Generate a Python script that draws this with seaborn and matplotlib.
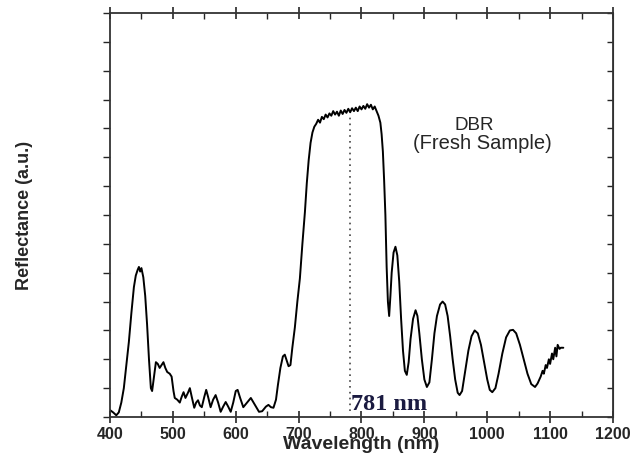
"""DBR reflectance spectrum (fresh sample)."""

import matplotlib

matplotlib.use("Agg")

import matplotlib.pyplot as plt
import pandas as pd
import seaborn as sns
from matplotlib.ticker import MultipleLocator

# values
wavelength = [
    400, 405, 410, 414, 418, 422, 426, 430, 434, 438, 441, 444, 446, 448, 450, 453, 456, 459, 462, 465,
    467, 470, 473, 476, 479, 482, 485, 488, 491, 495, 498, 501, 503, 507, 511, 514, 517, 520, 524, 527,
    530, 534, 537, 540, 543, 546, 550, 553, 556, 560, 564, 568, 572, 576, 580, 584, 588, 592, 596, 600,
    603, 607, 612, 618, 624, 630, 637, 642, 648, 652, 656, 660, 664, 667, 671, 675, 678, 681, 684, 687,
    690, 694, 698, 702, 706, 710, 713, 716, 719, 722, 725, 728, 731, 734, 737, 740, 743, 746, 749, 752,
    755, 758, 761, 764, 767, 770, 773, 776, 779, 782, 785, 788, 791, 794, 797, 800, 803, 806, 809, 812,
    815, 818, 821, 824, 827, 830, 832, 834, 836, 838, 840, 842, 844, 846, 848, 851, 854, 857, 860, 863,
    866, 869, 872, 875, 878, 882, 886, 889, 892, 896, 900, 904, 908, 912, 916, 920, 925, 929, 933, 937,
    941, 945, 949, 953, 956, 960, 965, 970, 975, 980, 985, 990, 995, 1000, 1004, 1008, 1013, 1018, 1024, 1030,
    1036, 1041, 1046, 1052, 1058, 1064, 1070, 1076, 1080, 1085, 1088, 1090, 1093, 1095, 1098, 1100, 1103, 1105, 1108, 1110,
    1112, 1115, 1117, 1121,
]
reflectance = [
    0.12, 0.08, 0.03, 0.08, 0.25, 0.50, 0.90, 1.30, 1.80, 2.25, 2.45, 2.55, 2.60, 2.52, 2.58, 2.42, 2.10, 1.60, 1.00, 0.50,
    0.45, 0.70, 0.95, 0.92, 0.85, 0.90, 0.95, 0.85, 0.78, 0.75, 0.70, 0.45, 0.33, 0.30, 0.25, 0.35, 0.43, 0.33, 0.42, 0.50,
    0.35, 0.16, 0.25, 0.29, 0.20, 0.17, 0.35, 0.47, 0.35, 0.17, 0.30, 0.38, 0.25, 0.09, 0.18, 0.26, 0.18, 0.09, 0.25, 0.45,
    0.47, 0.33, 0.17, 0.25, 0.33, 0.22, 0.09, 0.10, 0.18, 0.21, 0.17, 0.16, 0.30, 0.55, 0.85, 1.05, 1.08, 0.98, 0.88, 0.90,
    1.20, 1.55, 2.00, 2.40, 3.00, 3.55, 4.05, 4.45, 4.75, 4.93, 5.03, 5.08, 5.15, 5.10, 5.20, 5.16, 5.24, 5.19, 5.26, 5.22,
    5.30, 5.24, 5.29, 5.22, 5.31, 5.25, 5.32, 5.27, 5.34, 5.28, 5.35, 5.30, 5.36, 5.30, 5.38, 5.33, 5.39, 5.34, 5.42, 5.36,
    5.41, 5.33, 5.38, 5.30, 5.22, 5.10, 4.90, 4.60, 4.10, 3.50, 2.60, 2.00, 1.75, 2.10, 2.50, 2.85, 2.95, 2.80, 2.35, 1.70,
    1.15, 0.80, 0.73, 0.95, 1.35, 1.70, 1.85, 1.75, 1.45, 1.00, 0.65, 0.52, 0.60, 1.00, 1.45, 1.75, 1.95, 2.00, 1.95, 1.75,
    1.40, 1.00, 0.65, 0.42, 0.38, 0.45, 0.80, 1.15, 1.40, 1.50, 1.45, 1.25, 0.95, 0.65, 0.47, 0.43, 0.50, 0.75, 1.10, 1.38,
    1.50, 1.51, 1.45, 1.25, 1.00, 0.75, 0.57, 0.52, 0.58, 0.70, 0.80, 0.75, 0.90, 0.85, 1.00, 0.92, 1.10, 1.00, 1.20, 1.05,
    1.25, 1.18, 1.20, 1.20,
]
peak_nm = 781
x_ticks = [400, 500, 600, 700, 800, 900, 1000, 1100, 1200]

df = pd.DataFrame({"wavelength": wavelength, "reflectance": reflectance})

sns.set_style("ticks")
plt.rcParams["font.family"] = ["Liberation Sans", "DejaVu Sans"]

fig = plt.figure(figsize=(6.3, 4.59), dpi=100)
ax = fig.add_axes([0.1746, 0.0915, 0.7984, 0.8802])

sns.lineplot(data=df, x="wavelength", y="reflectance", color="black", linewidth=1.4, ax=ax)
ax.vlines(peak_nm, 0.1, 5.25, colors="#444444", linestyles=(0, (1, 2.5)), linewidth=1.2)

ax.set_xlim(400, 1200)
ax.set_ylim(0, 7)
ax.set_xticks(x_ticks)
ax.xaxis.set_minor_locator(MultipleLocator(50))
ax.yaxis.set_major_locator(MultipleLocator(1))
ax.yaxis.set_minor_locator(MultipleLocator(0.5))
ax.set_yticklabels([])

for side in ["left", "right", "top", "bottom"]:
    ax.spines[side].set_visible(True)
    ax.spines[side].set_color("#333333")
    ax.spines[side].set_linewidth(1.3)

ax.tick_params(axis="x", which="major", direction="inout", length=8, width=1.2, top=True,
               labelsize=11.5, pad=3)
ax.tick_params(axis="x", which="minor", direction="in", length=4, width=1.0, top=True)
ax.tick_params(axis="y", which="both", direction="out", length=5, width=1.0, left=True, right=False)
for lab in ax.get_xticklabels():
    lab.set_fontweight("bold")

# right spine ticks point inward
ax_r = ax.secondary_yaxis("right")
ax_r.yaxis.set_major_locator(MultipleLocator(1))
ax_r.yaxis.set_minor_locator(MultipleLocator(0.5))
ax_r.tick_params(which="both", direction="in", length=4, width=1.0, labelright=False)

# x label sits partly over the tick labels, as in the source figure
ax.set_xlabel("Wavelength (nm)", fontsize=14, fontweight="bold")
ax.xaxis.set_label_coords(0.5, -0.046)
ax.set_ylabel("Reflectance (a.u.)", fontsize=13, fontweight="bold")
ax.yaxis.set_label_coords(-0.153, 0.5)

ax.text(979, 5.05, "DBR", fontsize=13.5, ha="center", va="center")
ax.text(992, 4.74, "(Fresh Sample)", fontsize=14.5, ha="center", va="center")
ax.text(peak_nm + 2, 0.22, "781 nm", fontsize=17.5, fontweight="bold", family="Liberation Serif",
        color="#1a1a40", ha="left", va="center")

fig.savefig("out.png", dpi=100)
